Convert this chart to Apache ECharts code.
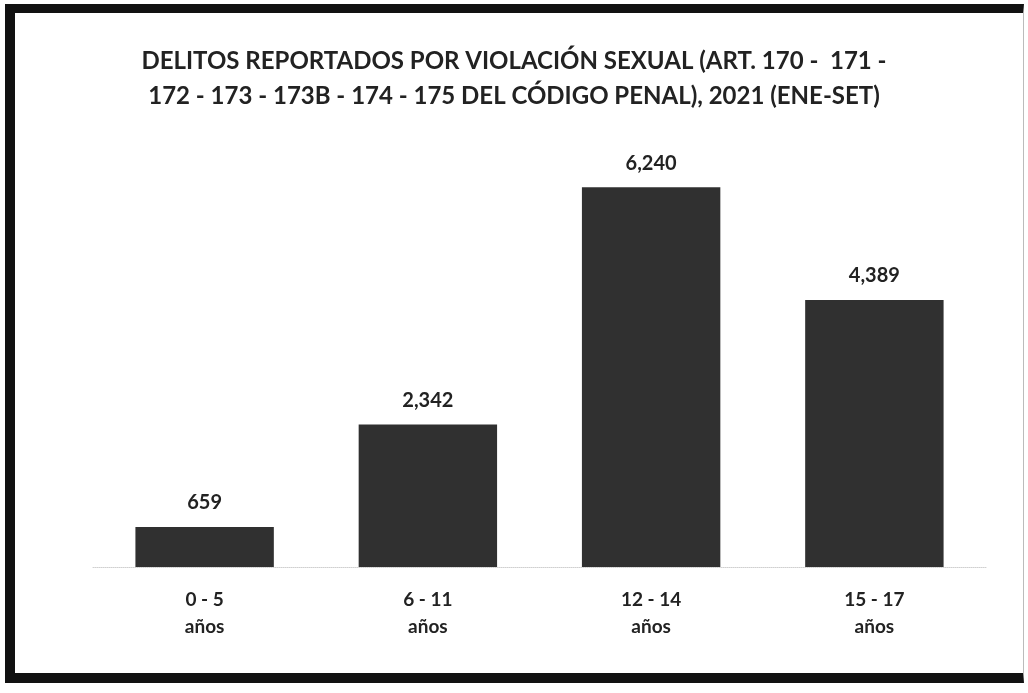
<!DOCTYPE html>
<html>
<head>
<meta charset="utf-8">
<script src="https://cdn.jsdelivr.net/npm/echarts@6/dist/echarts.min.js"></script>
<style>
  html, body { margin: 0; padding: 0; background: #fff; }
  #chart { position: absolute; left: 0; top: 0; width: 1028px; height: 693px; }
  #frame {
    position: absolute; left: 5px; top: 4px; width: 1019px; height: 679px;
    border-top: 9px solid #111; border-left: 10px solid #111; border-bottom: 10px solid #111;
    border-right: 1px solid #bbb; box-sizing: border-box; pointer-events: none;
  }
</style>
</head>
<body>
<div id="chart"></div>
<div id="frame"></div>
<script>
const titleLines = [
  'DELITOS REPORTADOS POR VIOLACIÓN SEXUAL (ART. 170 -  171 -',
  '172 - 173 - 173B - 174 - 175 DEL CÓDIGO PENAL), 2021 (ENE-SET)'
];
const categories = ['0 - 5\naños', '6 - 11\naños', '12 - 14\naños', '15 - 17\naños'];
const values = [659, 2342, 6240, 4389];

const font = 'Lato';
const chart = echarts.init(document.getElementById('chart'));

chart.setOption({
  backgroundColor: 'transparent',
  animation: false,
  title: {
    text: titleLines.join('\n'),
    left: 'center',
    top: 39,
    textStyle: { fontFamily: font, fontWeight: 'bold', fontSize: 24, lineHeight: 35, color: '#222' }
  },
  grid: { left: 93, right: 42, top: 141, bottom: 126 },
  xAxis: {
    type: 'category',
    data: categories,
    axisLine: { show: true, lineStyle: { color: '#d0d0d0', width: 1, type: 'dotted' } },
    axisTick: { show: false },
    axisLabel: {
      margin: 19,
      fontFamily: font, fontWeight: 'bold', fontSize: 19, lineHeight: 27, color: '#222'
    }
  },
  yAxis: {
    type: 'value',
    min: 0,
    max: 7000,
    show: false,
    splitLine: { show: false }
  },
  series: [{
    type: 'bar',
    data: values,
    barWidth: '62%',
    itemStyle: { color: '#303030' },
    label: {
      show: true,
      position: 'top',
      distance: 14,
      fontFamily: font, fontWeight: 'bold', fontSize: 20, color: '#222',
      formatter: p => p.value.toLocaleString('en-US')
    }
  }]
});
</script>
</body>
</html>
